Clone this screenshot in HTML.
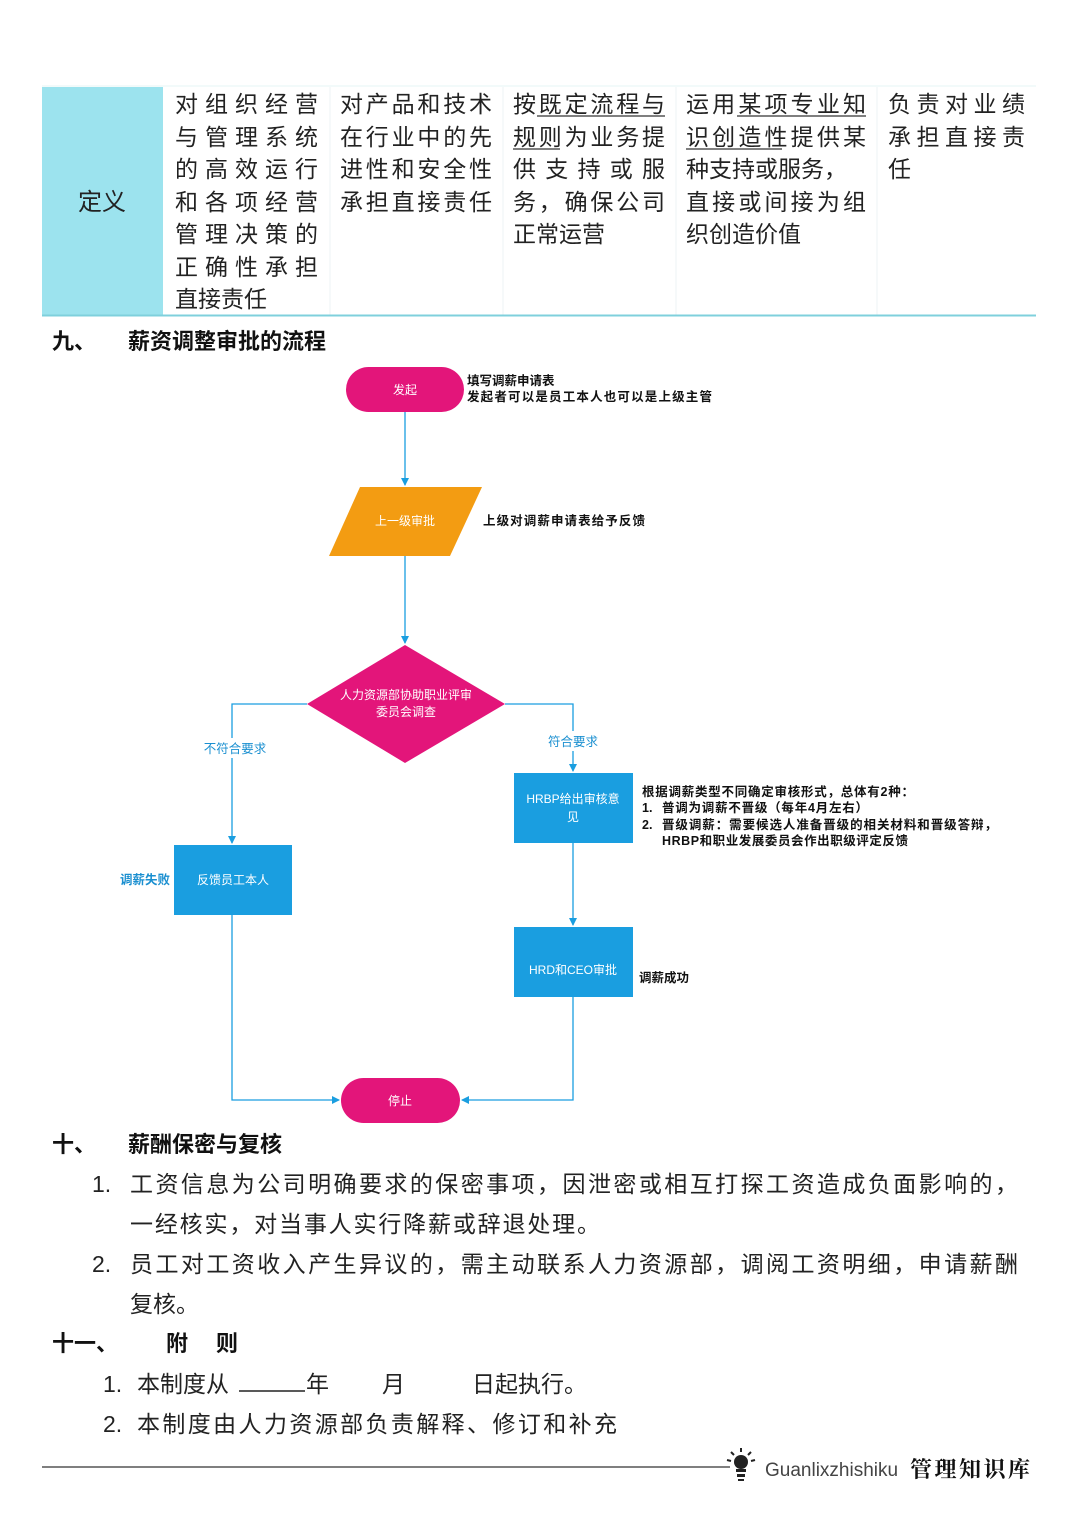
<!DOCTYPE html>
<html><head><meta charset="utf-8"><style>
html,body{margin:0;padding:0;background:#fff;}
svg{display:block;}
.t{font-family:"Liberation Sans","Noto Sans CJK SC",sans-serif;}
</style></head><body>
<svg width="1080" height="1528" viewBox="0 0 1080 1528" xmlns="http://www.w3.org/2000/svg" class="t">
<defs><marker id="a" markerWidth="8" markerHeight="8" refX="7" refY="4" orient="auto" markerUnits="userSpaceOnUse"><path d="M0,0 L8,4 L0,8 z" fill="#1a9ee0"/></marker></defs>
<rect x="42" y="87" width="121" height="228" fill="#9ce3ee"/>
<line x1="42" y1="86" x2="1036" y2="86" stroke="#e6f4f6" stroke-width="1"/>
<g stroke="#eef3f4" stroke-width="1"><line x1="330" y1="87" x2="330" y2="315"/><line x1="503" y1="87" x2="503" y2="315"/><line x1="676" y1="87" x2="676" y2="315"/><line x1="877" y1="87" x2="877" y2="315"/></g>
<line x1="42" y1="315.5" x2="1036" y2="315.5" stroke="#7fd0dc" stroke-width="2"/>
<g font-size="24" fill="#222">
<text x="78" y="210">定义</text>
<g font-size="23">
<text x="175" y="112" textLength="143" lengthAdjust="spacing">对组织经营</text>
<text x="175" y="145" textLength="143" lengthAdjust="spacing">与管理系统</text>
<text x="175" y="177" textLength="143" lengthAdjust="spacing">的高效运行</text>
<text x="175" y="210" textLength="143" lengthAdjust="spacing">和各项经营</text>
<text x="175" y="242" textLength="143" lengthAdjust="spacing">管理决策的</text>
<text x="175" y="275" textLength="143" lengthAdjust="spacing">正确性承担</text>
<text x="175" y="307">直接责任</text>
<text x="340" y="112" textLength="152" lengthAdjust="spacing">对产品和技术</text>
<text x="340" y="145" textLength="152" lengthAdjust="spacing">在行业中的先</text>
<text x="340" y="177" textLength="152" lengthAdjust="spacing">进性和安全性</text>
<text x="340" y="210" textLength="152" lengthAdjust="spacing">承担直接责任</text>
<text x="513" y="112" textLength="152" lengthAdjust="spacing">按既定流程与</text>
<text x="513" y="145" textLength="152" lengthAdjust="spacing">规则为业务提</text>
<text x="513" y="177" textLength="152" lengthAdjust="spacing">供支持或服</text>
<text x="513" y="210" textLength="152" lengthAdjust="spacing">务，确保公司</text>
<text x="513" y="242">正常运营</text>
<text x="686" y="112" textLength="180" lengthAdjust="spacing">运用某项专业知</text>
<text x="686" y="145" textLength="180" lengthAdjust="spacing">识创造性提供某</text>
<text x="686" y="177">种支持或服务，</text>
<text x="686" y="210" textLength="180" lengthAdjust="spacing">直接或间接为组</text>
<text x="686" y="242">织创造价值</text>
<text x="888" y="112" textLength="137" lengthAdjust="spacing">负责对业绩</text>
<text x="888" y="145" textLength="137" lengthAdjust="spacing">承担直接责</text>
<text x="888" y="177">任</text>
</g></g>
<g stroke="#333" stroke-width="1.3"><line x1="537" y1="116" x2="665" y2="116"/><line x1="513" y1="149" x2="560" y2="149"/><line x1="737" y1="116" x2="866" y2="116"/><line x1="686" y1="149" x2="782" y2="149"/></g>
<g font-size="22" fill="#111" font-weight="bold">
<text x="52" y="349">九、</text><text x="128" y="349">薪资调整审批的流程</text>
</g>
<g stroke="#1a9ee0" stroke-width="1.3" fill="none">
<line x1="405" y1="412" x2="405" y2="485" marker-end="url(#a)"/>
<line x1="405" y1="556" x2="405" y2="643" marker-end="url(#a)"/>
<polyline points="307,704 232,704 232,843" marker-end="url(#a)"/>
<polyline points="505,704 573,704 573,771" marker-end="url(#a)"/>
<line x1="573" y1="843" x2="573" y2="925" marker-end="url(#a)"/>
<polyline points="232,915 232,1100 339,1100" marker-end="url(#a)"/>
<polyline points="573,997 573,1100 462,1100" marker-end="url(#a)"/>
</g>
<rect x="346" y="367" width="118" height="45" rx="22.5" fill="#e3157a"/>
<polygon points="360,487 482,487 450,556 329,556" fill="#f39c12"/>
<polygon points="405,645 505,704 405,763 307,704" fill="#e3157a"/>
<rect x="514" y="773" width="119" height="70" fill="#1a9ee0"/>
<rect x="174" y="845" width="118" height="70" fill="#1a9ee0"/>
<rect x="514" y="927" width="119" height="70" fill="#1a9ee0"/>
<rect x="341" y="1078" width="119" height="45" rx="22.5" fill="#e3157a"/>
<g fill="#fff" font-size="12" text-anchor="middle">
<text x="405" y="394">发起</text>
<text x="405" y="525">上一级审批</text>
<text x="406" y="699">人力资源部协助职业评审</text>
<text x="406" y="716">委员会调查</text>
<text x="573" y="803">HRBP给出审核意</text>
<text x="573" y="821">见</text>
<text x="233" y="884">反馈员工本人</text>
<text x="573" y="974">HRD和CEO审批</text>
<text x="400" y="1105">停止</text>
</g>
<g font-size="12.5" fill="#111" font-weight="bold">
<text x="467" y="385">填写调薪申请表</text>
<text x="467" y="401" textLength="245" lengthAdjust="spacing">发起者可以是员工本人也可以是上级主管</text>
<text x="483" y="525" textLength="162" lengthAdjust="spacing">上级对调薪申请表给予反馈</text>
<text x="642" y="796" textLength="272" lengthAdjust="spacing">根据调薪类型不同确定审核形式，总体有2种：</text>
<text x="642" y="812">1.</text><text x="662" y="812" textLength="206" lengthAdjust="spacing">普调为调薪不晋级（每年4月左右）</text>
<text x="642" y="829">2.</text><text x="662" y="829" textLength="335" lengthAdjust="spacing">晋级调薪：需要候选人准备晋级的相关材料和晋级答辩，</text>
<text x="662" y="845" textLength="246" lengthAdjust="spacing">HRBP和职业发展委员会作出职级评定反馈</text>
<text x="639" y="982">调薪成功</text>
</g>
<rect x="198" y="738" width="72" height="20" fill="#fff"/>
<rect x="543" y="731" width="60" height="20" fill="#fff"/>
<g font-size="12.5" fill="#1a8fd0" text-anchor="middle">
<text x="235" y="753">不符合要求</text>
<text x="573" y="746">符合要求</text>
<text x="145" y="884" font-weight="bold">调薪失败</text>
</g>
<g font-size="22" fill="#111" font-weight="bold">
<text x="52" y="1152">十、</text><text x="128" y="1152">薪酬保密与复核</text>
<text x="52" y="1351">十一、</text><text x="166" y="1351">附</text><text x="216" y="1351">则</text>
</g>
<g font-size="23" fill="#222">
<text x="92" y="1192">1.</text>
<text x="130" y="1192" textLength="888" lengthAdjust="spacing">工资信息为公司明确要求的保密事项，因泄密或相互打探工资造成负面影响的，</text>
<text x="130" y="1232" textLength="470" lengthAdjust="spacing">一经核实，对当事人实行降薪或辞退处理。</text>
<text x="92" y="1272">2.</text>
<text x="130" y="1272" textLength="888" lengthAdjust="spacing">员工对工资收入产生异议的，需主动联系人力资源部，调阅工资明细，申请薪酬</text>
<text x="130" y="1312">复核。</text>
<text x="103" y="1392">1.</text>
<text x="137" y="1392">本制度从</text><line x1="239" y1="1391" x2="305" y2="1391" stroke="#222" stroke-width="1.5"/>
<text x="306" y="1392">年</text><text x="382" y="1392">月</text><text x="472" y="1392">日起执行。</text>
<text x="103" y="1432">2.</text>
<text x="137" y="1432" textLength="480" lengthAdjust="spacing">本制度由人力资源部负责解释、修订和补充</text>
</g>
<line x1="42" y1="1467" x2="730" y2="1467" stroke="#333" stroke-width="1.3"/>
<g fill="#222"><circle cx="741" cy="1462" r="7"/><rect x="736" y="1469" width="10" height="3"/><rect x="737" y="1474" width="8" height="3"/><rect x="738" y="1479" width="6" height="2"/>
<g stroke="#222" stroke-width="2"><line x1="741" y1="1448" x2="741" y2="1452"/><line x1="731" y1="1452" x2="734" y2="1455"/><line x1="751" y1="1452" x2="748" y2="1455"/><line x1="727" y1="1460" x2="731" y2="1461"/><line x1="755" y1="1460" x2="751" y2="1461"/></g></g>
<text x="765" y="1476" font-size="19" fill="#444">Guanlixzhishiku</text>
<text x="910" y="1477" font-size="22" fill="#111" font-weight="bold" font-family="'Noto Serif CJK SC',serif" textLength="120" lengthAdjust="spacing">管理知识库</text>
</svg>
</body></html>
